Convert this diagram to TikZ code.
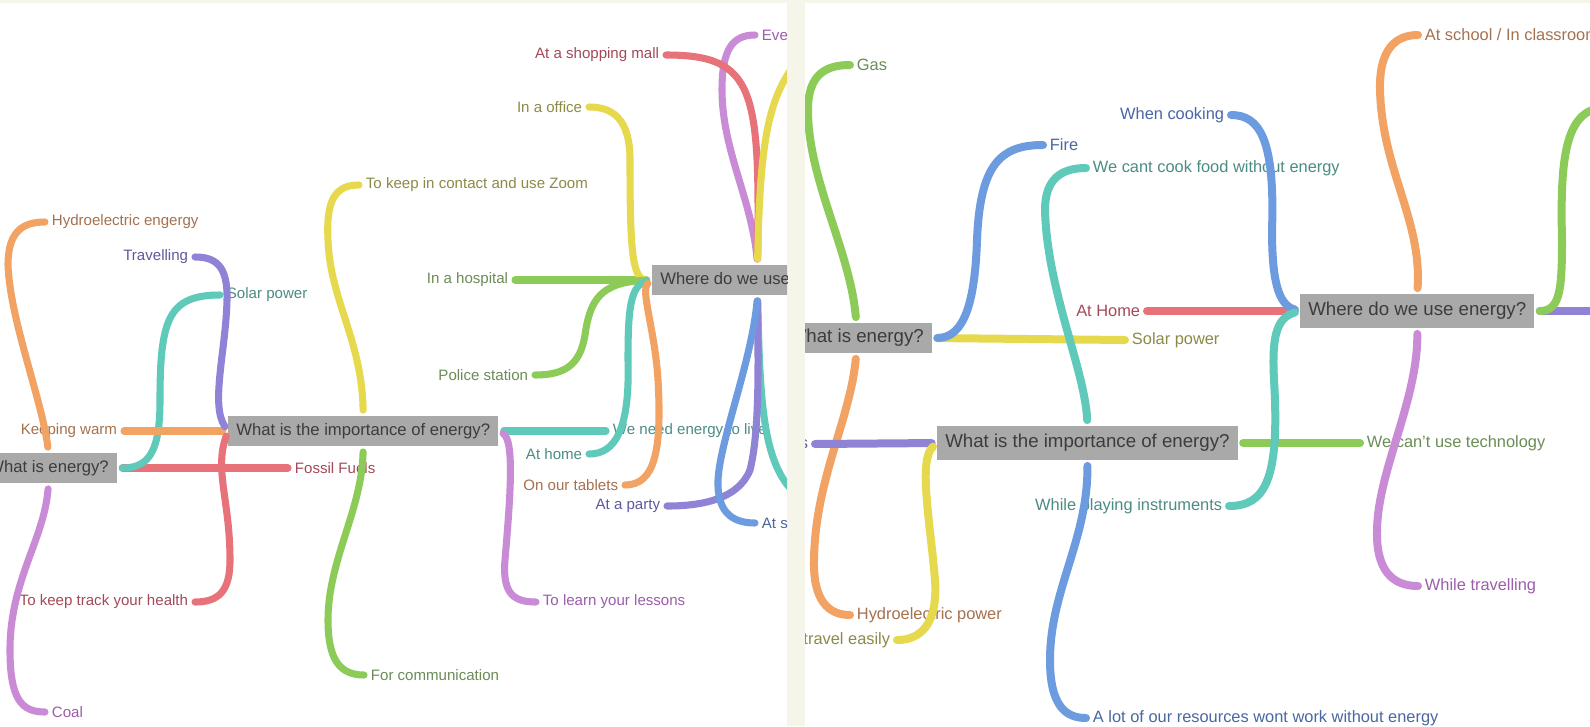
\documentclass[tikz,border=0pt]{standalone}
\usepackage{fontspec}
\setmainfont{Liberation Sans}

\definecolor{bgcream}{HTML}{F6F5E9}
\definecolor{boxgray}{HTML}{A9A9A9}
\definecolor{boxtext}{HTML}{3C3C3C}
% branch colours
\definecolor{brorange}{HTML}{F2A263}
\definecolor{brlilac}{HTML}{C98BD6}
\definecolor{brteal}{HTML}{5FC9BA}
\definecolor{brred}{HTML}{E8727A}
\definecolor{brpurple}{HTML}{8F83D6}
\definecolor{bryellow}{HTML}{E6D94E}
\definecolor{brgreen}{HTML}{8CCB57}
\definecolor{brblue}{HTML}{6D9BE0}
% label colours
\definecolor{txorange}{HTML}{A5714E}
\definecolor{txlilac}{HTML}{9C5DAA}
\definecolor{txteal}{HTML}{4B8C84}
\definecolor{txred}{HTML}{A34A58}
\definecolor{txpurple}{HTML}{5D5A9C}
\definecolor{txyellow}{HTML}{8C8A48}
\definecolor{txgreen}{HTML}{6B8C57}
\definecolor{txblue}{HTML}{4B66A3}

\begin{document}
\begin{tikzpicture}[x=0.75pt,y=-0.75pt,
		topic/.style={fill=boxgray,text=boxtext,inner xsep=6pt},
		leaf/.style={inner xsep=5pt,inner ysep=2pt},
		branch/.style={line width=5.3pt,line cap=round,shorten <=4pt}]
	\useasboundingbox (0,0) rectangle (1590,726);
	\fill[bgcream] (0,0) rectangle (1590,726);
	\fill[white] (0,3) rectangle (787,726);
	\fill[white] (805,3) rectangle (1590,726);
	
	% left panel
	\begin{scope}
		\clip (0,3) rectangle (787,726);
		\begin{scope}[font=\fontsize{12.5}{14}\selectfont]
			\node[topic,anchor=east,minimum height=23pt] (we1) at (117,468) {What is energy?};
			\node[topic,anchor=west,minimum height=23pt] (imp1) at (228,431) {What is the importance of energy?};
			\node[topic,anchor=west,minimum height=23pt] (wh1) at (652,280) {Where do we use energy?};
		\end{scope}
		\begin{scope}[font=\fontsize{11.3}{13}\selectfont]
			\node[leaf,anchor=west,text=txorange] (hydro1) at (45,222) {Hydroelectric engergy};
			\node[leaf,anchor=west,text=txlilac] (coal1) at (45,712) {Coal};
			\node[leaf,anchor=west,text=txteal] (solar1) at (220,295) {Solar power};
			\node[leaf,anchor=west,text=txred] (fossil1) at (288,468) {Fossil Fuels};
			\node[leaf,anchor=east,text=txorange] (warm1) at (124,431) {Keeping warm};
			\node[leaf,anchor=east,text=txpurple] (travel1) at (195,257) {Travelling};
			\node[leaf,anchor=east,text=txred] (health1) at (195,602) {To keep track your health};
			\node[leaf,anchor=west,text=txyellow] (zoom1) at (359,185) {To keep in contact and use Zoom};
			\node[leaf,anchor=west,text=txgreen] (comm1) at (364,675) {For communication};
			\node[leaf,anchor=west,text=txteal] (live1) at (606,431) {We need energy to live};
			\node[leaf,anchor=west,text=txlilac] (lessons1) at (536,602) {To learn your lessons};
			\node[leaf,anchor=east,text=txgreen] (hospital1) at (515,280) {In a hospital};
			\node[leaf,anchor=east,text=txyellow] (office1) at (589,107) {In a office};
			\node[leaf,anchor=east,text=txgreen] (police1) at (535,375) {Police station};
			\node[leaf,anchor=east,text=txteal] (home1) at (589,454) {At home};
			\node[leaf,anchor=east,text=txorange] (tablets1) at (625,485) {On our tablets};
			\node[leaf,anchor=west,text=txlilac] (eve1) at (755,35) {Eve};
			\node[leaf,anchor=east,text=txred] (mall1) at (666,55) {At a shopping mall};
			\node[leaf,anchor=east,text=txpurple] (party1) at (667,506) {At a party};
			\node[leaf,anchor=west,text=txblue] (ats1) at (755,523) {At s};
		\end{scope}
		\coordinate (offy1) at (800,58);
		\coordinate (offt1) at (800,497);
		
		\draw[branch,brorange] (we1.north) .. controls (42,400) and (10,320) .. (8,265) .. controls (8,232) and (22,222) .. (hydro1.west);
		\draw[branch,brlilac] (we1.south) .. controls (44,540) and (10,580) .. (10,650) .. controls (10,700) and (22,712) .. (coal1.west);
		\draw[branch,brred] (we1.east) -- (fossil1.west);
		\draw[branch,brteal] (we1.east) .. controls (150,468) and (160,450) .. (160,400) .. controls (160,320) and (168,295) .. (solar1.west);
		
		\draw[branch,brorange] (imp1.west) -- (warm1.east);
		\draw[branch,brpurple] (imp1.west) .. controls (210,405) and (226,350) .. (227,300) .. controls (228,265) and (215,257) .. (travel1.east);
		\draw[branch,brred] (imp1.west) .. controls (214,470) and (230,500) .. (230,560) .. controls (230,592) and (218,602) .. (health1.east);
		\draw[branch,bryellow] (imp1.north) .. controls (362,340) and (330,300) .. (328,240) .. controls (326,200) and (335,185) .. (zoom1.west);
		\draw[branch,brgreen] (imp1.south) .. controls (362,510) and (328,560) .. (328,620) .. controls (328,660) and (340,675) .. (comm1.west);
		\draw[branch,brteal] (imp1.east) -- (live1.west);
		\draw[branch,brlilac] (imp1.east) .. controls (515,440) and (510,500) .. (505,560) .. controls (502,595) and (515,602) .. (lessons1.west);
		
		\draw[branch,brgreen] (wh1.west) -- (hospital1.east);
		\draw[branch,bryellow] (wh1.west) .. controls (632,280) and (630,250) .. (630,160) .. controls (630,118) and (612,107) .. (office1.east);
		\draw[branch,brgreen] (wh1.west) .. controls (600,282) and (590,300) .. (585,335) .. controls (580,365) and (565,375) .. (police1.east);
		\draw[branch,brteal] (wh1.west) .. controls (630,285) and (628,310) .. (628,360) .. controls (630,430) and (615,454) .. (home1.east);
		\draw[branch,brorange] (wh1.west) .. controls (640,290) and (655,330) .. (658,380) .. controls (662,450) and (655,485) .. (tablets1.east);
		\draw[branch,brlilac] (wh1.north) .. controls (752,200) and (722,150) .. (722,90) .. controls (722,50) and (732,35) .. (eve1.west);
		\draw[branch,brred] (wh1.north) .. controls (760,90) and (755,55) .. (mall1.east);
		\draw[branch,bryellow] (wh1.north) .. controls (760,140) and (768,95) .. (offy1);
		\draw[branch,brteal] (wh1.south) .. controls (760,400) and (762,470) .. (offt1);
		\draw[branch,brpurple] (wh1.south) .. controls (758,360) and (760,430) .. (750,470) .. controls (738,500) and (700,506) .. (party1.east);
		\draw[branch,brblue] (wh1.south) .. controls (752,360) and (720,440) .. (718,480) .. controls (717,510) and (730,523) .. (ats1.west);
	\end{scope}
	
	% right panel
	\begin{scope}[branch/.append style={line width=6pt}]
		\clip (805,3) rectangle (1590,726);
		\begin{scope}[font=\fontsize{14}{16}\selectfont]
			\node[topic,anchor=east,minimum height=23pt] (we2) at (932,338) {What is energy?};
			\node[topic,anchor=west,minimum height=26pt] (imp2) at (937,443) {What is the importance of energy?};
			\node[topic,anchor=west,minimum height=26pt] (wh2) at (1300,311) {Where do we use energy?};
		\end{scope}
		\begin{scope}[font=\fontsize{12.3}{14}\selectfont]
			\node[leaf,anchor=west,text=txgreen] (gas2) at (850,65) {Gas};
			\node[leaf,anchor=west,text=txblue] (fire2) at (1043,145) {Fire};
			\node[leaf,anchor=west,text=txyellow] (solar2) at (1125,340) {Solar power};
			\node[leaf,anchor=west,text=txorange] (hydro2) at (850,615) {Hydroelectric power};
			\node[leaf,anchor=east,text=txpurple] (s2) at (815,444) {s};
			\node[leaf,anchor=east,text=txyellow] (easy2) at (897,640) {travel easily};
			\node[leaf,anchor=west,text=txteal] (cook2) at (1086,168) {We cant cook food without energy};
			\node[leaf,anchor=west,text=txblue] (lot2) at (1086,718) {A lot of our resources wont work without energy};
			\node[leaf,anchor=west,text=txgreen] (tech2) at (1360,443) {We can't use technology};
			\node[leaf,anchor=east,text=txred] (home2) at (1147,311) {At Home};
			\node[leaf,anchor=east,text=txblue] (when2) at (1231,115) {When cooking};
			\node[leaf,anchor=east,text=txteal] (play2) at (1229,506) {While playing instruments};
			\node[leaf,anchor=west,text=txorange] (school2) at (1418,35) {At school / In classroom};
			\node[leaf,anchor=west,text=txlilac] (trav2) at (1418,586) {While travelling};
		\end{scope}
		\coordinate (offg2) at (1600,108);
		\coordinate (offp2) at (1600,311);
		
		\draw[branch,brgreen] (we2.north) .. controls (850,250) and (808,180) .. (808,110) .. controls (808,75) and (825,65) .. (gas2.west);
		\draw[branch,bryellow] (we2.east) -- (solar2.west);
		\draw[branch,brblue] (we2.east) .. controls (965,338) and (975,300) .. (977,240) .. controls (980,165) and (1000,145) .. (fire2.west);
		\draw[branch,brorange] (we2.south) .. controls (850,420) and (815,480) .. (814,560) .. controls (813,600) and (828,615) .. (hydro2.west);
		
		\draw[branch,brpurple] (imp2.west) -- (s2.east);
		\draw[branch,bryellow] (imp2.west) .. controls (918,460) and (930,520) .. (935,580) .. controls (938,625) and (920,640) .. (easy2.east);
		\draw[branch,brteal] (imp2.north) .. controls (1085,370) and (1047,290) .. (1045,210) .. controls (1045,180) and (1060,168) .. (cook2.west);
		\draw[branch,brblue] (imp2.south) .. controls (1088,540) and (1050,590) .. (1050,660) .. controls (1050,705) and (1065,718) .. (lot2.west);
		\draw[branch,brgreen] (imp2.east) -- (tech2.west);
		
		\draw[branch,brred] (wh2.west) -- (home2.east);
		\draw[branch,brblue] (wh2.west) .. controls (1278,305) and (1272,280) .. (1272,230) .. controls (1275,140) and (1260,115) .. (when2.east);
		\draw[branch,brteal] (wh2.west) .. controls (1275,318) and (1272,340) .. (1274,380) .. controls (1280,480) and (1265,506) .. (play2.east);
		\draw[branch,brorange] (wh2.north) .. controls (1422,220) and (1382,170) .. (1380,90) .. controls (1379,50) and (1395,35) .. (school2.west);
		\draw[branch,brlilac] (wh2.south) .. controls (1418,400) and (1378,470) .. (1377,530) .. controls (1376,570) and (1392,586) .. (trav2.west);
		\draw[branch,brpurple] (wh2.east) -- (offp2);
		\draw[branch,brgreen] (wh2.east) .. controls (1560,311) and (1562,290) .. (1562,240) .. controls (1560,160) and (1565,113) .. (offg2);
	\end{scope}
\end{tikzpicture}
\end{document}
